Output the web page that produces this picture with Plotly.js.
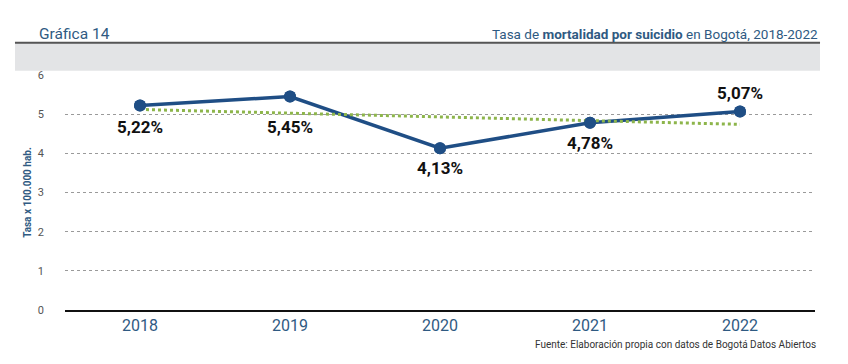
<!DOCTYPE html>
<html>
<head>
<meta charset="utf-8">
<script src="https://cdn.plot.ly/plotly-3.0.1.min.js"></script>
<style>
html,body{margin:0;padding:0;background:#fff;}
#chart{width:848px;height:364px;}
</style>
</head>
<body>
<div id="chart"></div>
<script>
// Data
var years = ['2018', '2019', '2020', '2021', '2022'];
var rates = [5.22, 5.45, 4.13, 4.78, 5.07];
// Trend line endpoints
var trendYears = ['2018', '2022'];
var trendRates = [5.12, 4.74];
var yTicks = [0, 1, 2, 3, 4, 5, 6];

// Label placement (style, pixels relative to each point)
var labelOffsetPx = [-21, -30, -20, -20, 18];

var FONT = 'Roboto, "Liberation Sans", sans-serif';
var BLUE = '#1f4e85';
var TXTBLUE = '#2f5a82';

var traces = [
  {
    x: years, y: rates, type: 'scatter', mode: 'lines+markers',
    line: {color: BLUE, width: 3.5},
    marker: {color: BLUE, size: 12},
    showlegend: false
  },
  {
    x: trendYears, y: trendRates, type: 'scatter', mode: 'lines',
    line: {color: '#8db54b', width: 3, dash: 'dot'},
    hoverinfo: 'skip', showlegend: false
  },
  {
    x: years, y: rates, type: 'scatter', mode: 'markers',
    marker: {color: BLUE, size: 12},
    hoverinfo: 'skip', showlegend: false
  }
];

var annotations = [];
for (var i = 0; i < years.length; i++) {
  annotations.push({
    x: i, y: rates[i], xref: 'x', yref: 'y',
    text: '<b>' + rates[i].toFixed(2).replace('.', ',') + '%</b>',
    showarrow: false,
    xanchor: 'center', yanchor: 'middle',
    yshift: labelOffsetPx[i],
    font: {family: FONT, size: 17, color: '#111'}
  });
}

annotations.push({
  text: 'Gráfica 14', xref: 'paper', yref: 'paper', x: -0.037, y: 1.175,
  xanchor: 'left', yanchor: 'middle', showarrow: false,
  font: {family: FONT, size: 15.5, color: TXTBLUE}
});
annotations.push({
  text: 'Tasa de <b>mortalidad por suicidio</b> en Bogotá, 2018-2022',
  xref: 'paper', yref: 'paper', x: 1.0067, y: 1.175,
  xanchor: 'right', yanchor: 'middle', showarrow: false,
  font: {family: FONT, size: 13.5, color: TXTBLUE}
});
annotations.push({
  text: 'Fuente: Elaboración propia con datos de Bogotá Datos Abiertos',
  xref: 'paper', yref: 'paper', x: 1.004, y: -0.145,
  xanchor: 'right', yanchor: 'middle', showarrow: false,
  font: {family: FONT, size: 10, color: '#333'}
});

var layout = {
  width: 848, height: 364,
  margin: {l: 65, r: 33, t: 75, b: 54},
  paper_bgcolor: '#fff', plot_bgcolor: '#fff',
  font: {family: FONT},
  xaxis: {
    type: 'category', categoryorder: 'array', categoryarray: years,
    range: [-0.5, 4.5],
    showgrid: false, zeroline: false,
    showline: true, linecolor: '#111', linewidth: 1.5,
    ticks: '', tickfont: {family: FONT, size: 16, color: TXTBLUE},
    fixedrange: true
  },
  yaxis: {
    range: [0, 6], tickvals: yTicks, ticktext: yTicks.map(String),
    showgrid: true, gridcolor: '#9a9a9a', gridwidth: 1, griddash: 'dot',
    zeroline: false, showline: false, ticks: '',
    ticklabelstandoff: 20,
    tickfont: {family: FONT, size: 11, color: '#555'},
    title: {text: '<b>Tasa x 100.000 hab.</b>', standoff: 4,
            font: {family: FONT, size: 10, color: TXTBLUE}},
    fixedrange: true
  },
  shapes: [
    {type: 'rect', xref: 'paper', yref: 'paper', x0: -0.0667, x1: 1.0067,
     y0: 1.018, y1: 1.137, fillcolor: '#e3e4e6', line: {width: 0}, layer: 'below'},
    {type: 'line', xref: 'paper', yref: 'paper', x0: -0.0667, x1: 1.0067,
     y0: 1.1375, y1: 1.1375, line: {color: '#555', width: 2}}
  ],
  annotations: annotations
};

Plotly.newPlot('chart', traces, layout, {displayModeBar: false, staticPlot: true});
</script>
</body>
</html>
